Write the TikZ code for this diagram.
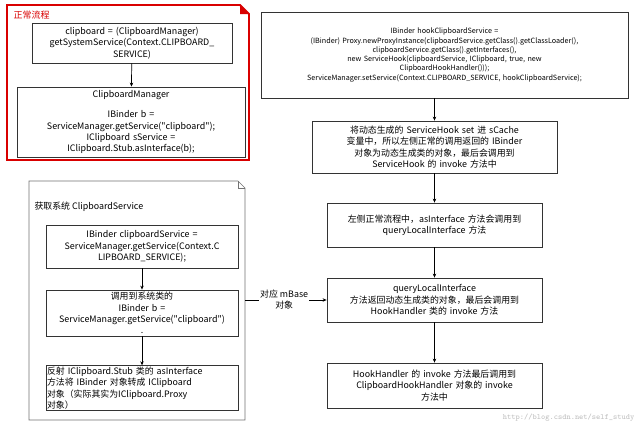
\documentclass[tikz,border=0pt]{standalone}
\usepackage{fontspec}
\setmainfont{Noto Sans CJK SC}
\newfontfamily\qfont{Noto Sans CJK SC}
\newcommand{\dq}{{\qfont"}}
\begin{document}
\begin{tikzpicture}[x=1pt,y=-1pt,
  box/.style={draw=black!80,line width=0.8pt,fill=white,align=center,inner sep=1pt,font=\fontsize{8.9}{11.4}\selectfont},
  arr/.style={-{Stealth[length=4pt,width=3.5pt]},line width=0.7pt},
  lbl/.style={font=\fontsize{8.9}{11}\selectfont,align=center}]
\usetikzlibrary{arrows.meta}
\useasboundingbox (0,0) rectangle (640,431);
\fill[white] (0,0) rectangle (640,431);
% red note
\draw[red!85!black,line width=1.8pt] (7,5) -- (240,5) -- (249,14) -- (249,160) -- (7,160) -- cycle;
\fill[red!85!black] (240,5) -- (249,14) -- (240,14) -- cycle;
\node[anchor=west,text=red!85!black,font=\fontsize{9}{11}\selectfont] (t1) at (10,15) {正常流程};
\node[box,minimum width=200,minimum height=40,text width=198] (b1) at (132,43) {clipboard = (ClipboardManager)\\getSystemService(Context.CLIPBOARD\_\\SERVICE)};
\node[box,minimum width=228,minimum height=70,text width=226] (b2) at (131,122) {ClipboardManager\\[9pt]IBinder b =\\ServiceManager.getService(\dq clipboard\dq);\\IClipboard sService =\\IClipboard.Stub.asInterface(b);};
\draw[arr] (b1) -- (b2);
% right column
\node[box,minimum width=367,minimum height=86,text width=360,font=\fontsize{7.2}{9.3}\selectfont] (r0) at (444.5,55) {IBinder hookClipboardService =\\(IBinder) Proxy.newProxyInstance(clipboardService.getClass().getClassLoader(),\\clipboardService.getClass().getInterfaces(),\\new ServiceHook(clipboardService, IClipboard, true, new\\ClipboardHookHandler()));\\ServiceManager.setService(Context.CLIPBOARD\_SERVICE, hookClipboardService);};
\node[box,minimum width=245,minimum height=52,text width=240] (r1) at (434.5,147) {将动态生成的 ServiceHook set 进 sCache\\变量中，所以左侧正常的调用返回的 IBinder\\对象为动态生成类的对象，最后会调用到\\ServiceHook 的 invoke 方法中};
\node[box,minimum width=215,minimum height=44,text width=212] (r2) at (434.5,225) {左侧正常流程中，asInterface 方法会调用到\\queryLocalInterface 方法};
\node[box,minimum width=215,minimum height=44,text width=212] (r3) at (434.5,300) {queryLocalInterface\\方法返回动态生成类的对象，最后会调用到\\HookHandler 类的 invoke 方法};
\node[box,minimum width=215,minimum height=45,text width=212] (r4) at (434.5,385.5) {HookHandler 的 invoke 方法最后调用到\\ClipboardHookHandler 对象的 invoke\\方法中};
\draw[arr] (r0.south -| r1.north) -- (r1);
\draw[arr] (r1) -- (r2);
\draw[arr] (r2) -- (r3);
\draw[arr] (r3) -- (r4);
% left note
\draw[black!55,line width=0.6pt] (29,181) -- (238,181) -- (245,188) -- (245,420) -- (29,420) -- cycle;
\draw[black!55,line width=0.6pt] (238,181) -- (238,188) -- (245,188);
\coordinate (nr) at (245,300);
\node[anchor=west,font=\fontsize{8.9}{11}\selectfont] (t2) at (31,207) {获取系统 ClipboardService};
\node[box,minimum width=192,minimum height=43,text width=190] (l1) at (142,246.5) {IBinder clipboardService =\\ServiceManager.getService(Context.C\\LIPBOARD\_SERVICE);};
\node[box,minimum width=192,minimum height=46,text width=190] (l2) at (142,313) {调用到系统类的\\IBinder b =\\ServiceManager.getService(\dq clipboard\dq)\\.};
\node[box,minimum width=192,minimum height=44,text width=190,align=left] (l3) at (142,388) {反射 IClipboard.Stub 类的 asInterface\\方法将 IBinder 对象转成 IClipboard\\对象（实际其实为IClipboard.Proxy\\对象）};
\draw[arr] (l1) -- (l2);
\draw[arr] (l2) -- (l3);
\draw[arr] (nr) -- (nr -| r3.west) node[lbl,pos=0.48,fill=white,inner sep=1pt] (m) {对应 mBase\\对象};
\node[anchor=east,text=black!25,font=\ttfamily\fontsize{8}{9}\selectfont] (wm) at (638,418) {http://blog.csdn.net/self\_study};
\end{tikzpicture}
\end{document}
